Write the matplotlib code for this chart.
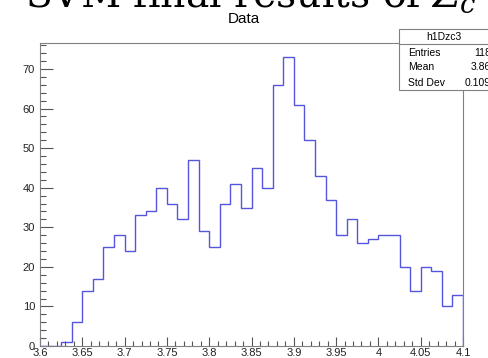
import numpy as np
import matplotlib
matplotlib.use("Agg")
import matplotlib.pyplot as plt
from matplotlib.patches import Rectangle
from matplotlib.lines import Line2D

# histogram h1Dzc3, 40 bins from 3.6 to 4.1
x_min, x_max, n_bins = 3.6, 4.1, 40
counts = [0, 0, 1, 6, 14, 17, 25, 28, 24, 33,
          34, 40, 36, 32, 47, 29, 25, 36, 41, 35,
          45, 40, 66, 73, 61, 52, 43, 37, 28, 32,
          26, 27, 28, 28, 20, 14, 20, 19, 10, 13]

x_ticks = [3.6, 3.65, 3.7, 3.75, 3.8, 3.85, 3.9, 3.95, 4.0, 4.05, 4.1]
x_labels = ["3.6", "3.65", "3.7", "3.75", "3.8", "3.85", "3.9", "3.95", "4", "4.05", "4.1"]
y_ticks = [0, 10, 20, 30, 40, 50, 60, 70]

hist_name = "h1Dzc3"
stat_names = ["Entries", "Mean", "Std Dev"]
stat_values = ["1185", "3.861", "0.1092"]

W, H = 488, 358
plt.rcParams['font.family'] = ['Liberation Sans', 'DejaVu Sans']
fig = plt.figure(figsize=(W / 100, H / 100), dpi=100)

# axes in pixel box: x 40..463, y 42.7..346 (from top)
ax = fig.add_axes([40 / W, (H - 346) / H, 423 / W, (346 - 42.7) / H])

edges = np.linspace(x_min, x_max, n_bins + 1)
ax.stairs(counts, edges, color="#5555dd", linewidth=1.0, baseline=0)

ax.set_xlim(x_min, x_max)
ax.set_ylim(0, max(counts) * 1.05)

ax.set_xticks(x_ticks)
ax.set_xticklabels(x_labels)
ax.set_xticks(np.arange(3.6, 4.1001, 0.01), minor=True)
ax.set_yticks(y_ticks)
ax.set_yticks(np.arange(0, 77, 2), minor=True)

for s in ax.spines.values():
    s.set_color("#808080")
    s.set_linewidth(0.8)

ax.tick_params(axis="x", which="major", direction="in", length=6.5, width=0.8,
               color="#555555", labelsize=8, pad=1.5, labelcolor="#222222")
ax.tick_params(axis="x", which="minor", direction="in", length=3.4, width=0.8,
               color="#555555")
ax.tick_params(axis="y", which="major", direction="in", length=9, width=0.8,
               color="#555555", labelsize=8, pad=3.5, labelcolor="#222222")
ax.tick_params(axis="y", which="minor", direction="in", length=4.5, width=0.8,
               color="#555555")

# pad title
fig.text(244 / W, 1 - 19 / H, "Data", ha="center", va="center", fontsize=11)

# big caption, mostly cut off at the top
fig.text(25 / W, 1 - 7 / H, "SVM final results of $Z_c$", ha="left", va="baseline",
         fontsize=28.3, family="DejaVu Serif", math_fontfamily="dejavuserif")

# stats box
bx0, bx1, by0, by1 = 399, 490, 29, 90
fig.add_artist(Rectangle((bx0 / W, 1 - by1 / H), (bx1 - bx0) / W, (by1 - by0) / H,
                         transform=fig.transFigure, facecolor="white",
                         edgecolor="#808080", linewidth=0.8, clip_on=False))
fig.add_artist(Line2D([bx0 / W, bx1 / W], [1 - 44 / H, 1 - 44 / H],
                      transform=fig.transFigure, color="#808080", linewidth=0.8))
fig.text(444 / W, 1 - 36.5 / H, hist_name, ha="center", va="center", fontsize=7.5)
for i, (nm, val) in enumerate(zip(stat_names, stat_values)):
    yy = 1 - (52.5 + 15 * i) / H
    fig.text(408 / W, yy, nm, ha="left", va="center", fontsize=7.5)
    fig.text(497 / W, yy, val, ha="right", va="center", fontsize=7.5)

fig.savefig("out.png", dpi=100)
